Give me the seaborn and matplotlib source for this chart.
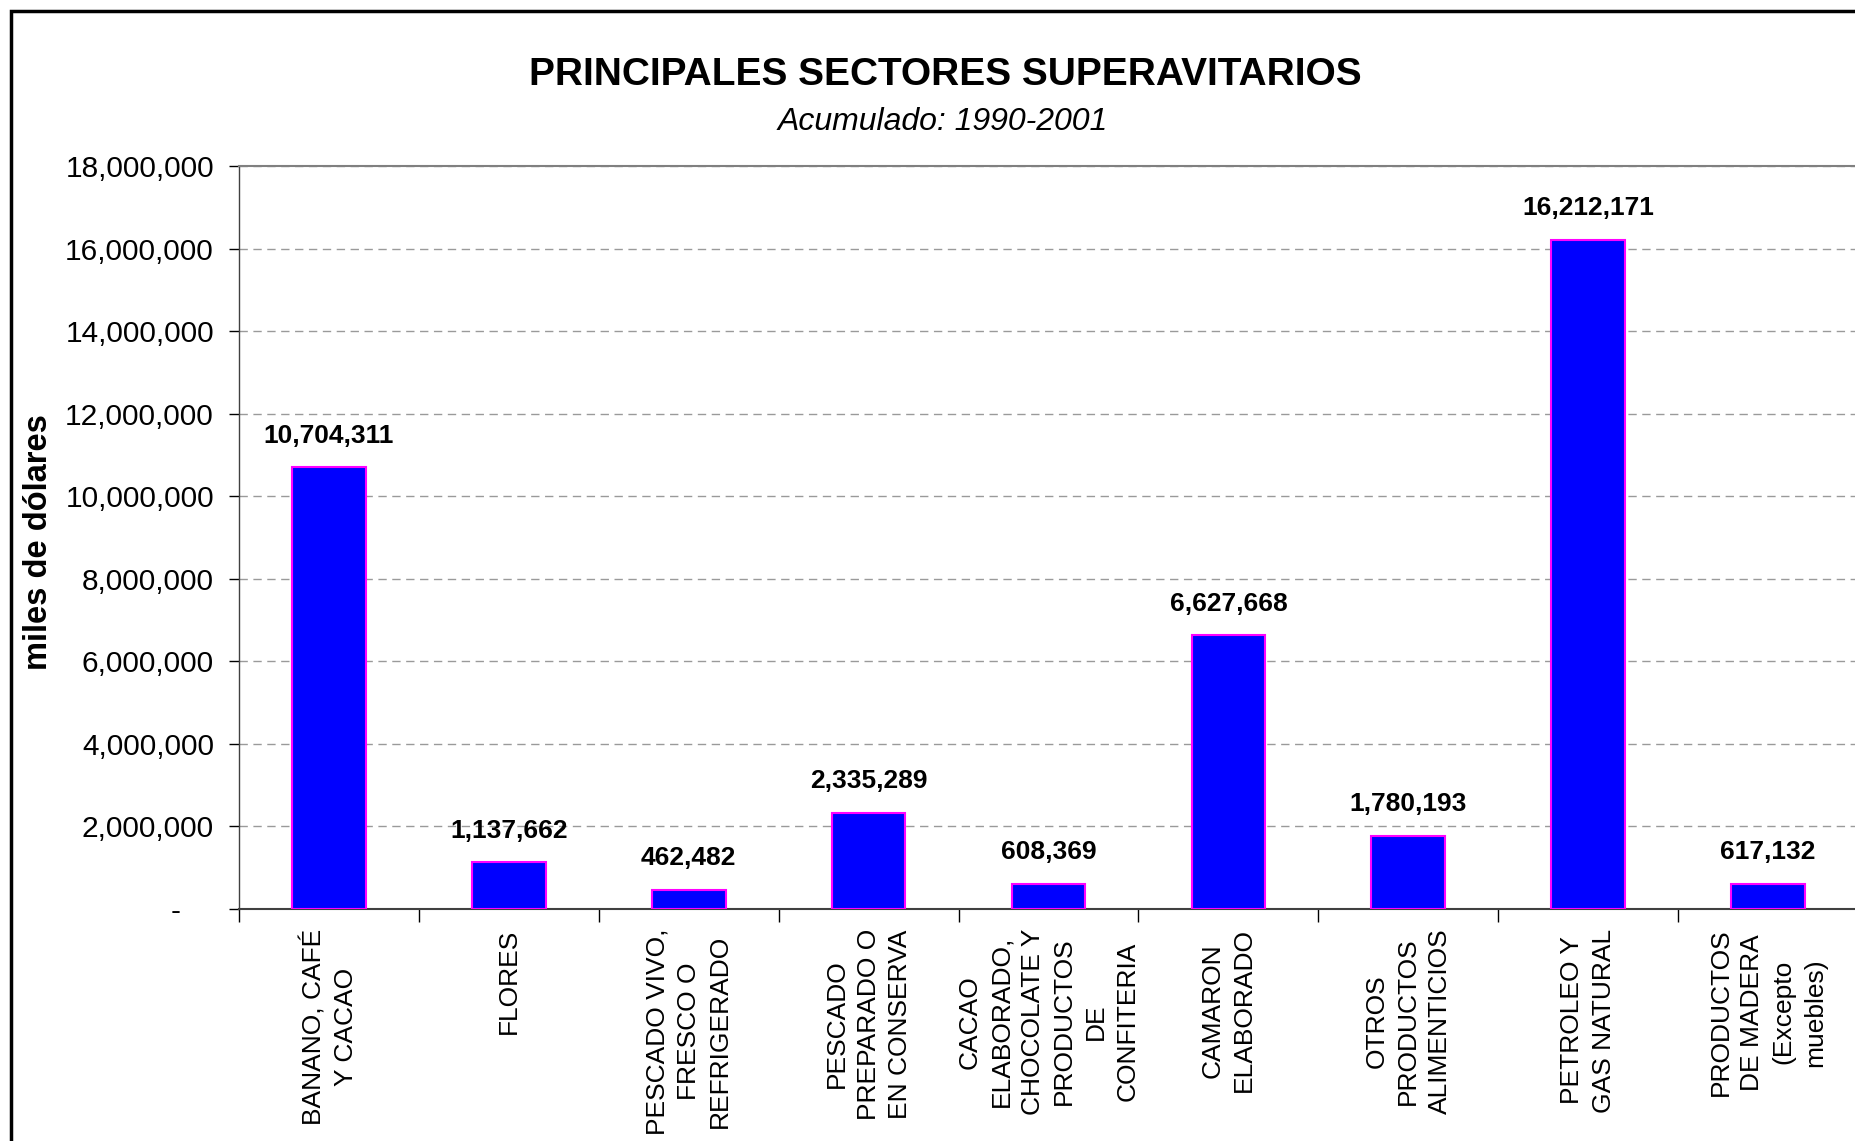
import matplotlib
matplotlib.use("Agg")
import matplotlib.pyplot as plt
import matplotlib.patches as patches
from matplotlib.ticker import FuncFormatter, FixedLocator
import seaborn as sns

# data
categories = [
    "BANANO, CAFÉ\nY CACAO",
    "FLORES",
    "PESCADO VIVO,\nFRESCO O\nREFRIGERADO",
    "PESCADO\nPREPARADO O\nEN CONSERVA",
    "CACAO\nELABORADO,\nCHOCOLATE Y\nPRODUCTOS\nDE\nCONFITERIA",
    "CAMARON\nELABORADO",
    "OTROS\nPRODUCTOS\nALIMENTICIOS",
    "PETROLEO Y\nGAS NATURAL",
    "PRODUCTOS\nDE MADERA\n(Excepto\nmuebles)",
]
values = [10704311, 1137662, 462482, 2335289, 608369, 6627668, 1780193, 16212171, 617132]
y_ticks = list(range(0, 18000001, 2000000))

TITLE = "PRINCIPALES SECTORES SUPERAVITARIOS"
SUBTITLE = "Acumulado: 1990-2001"
Y_LABEL = "miles de dólares"

sns.set_theme(style="white")
plt.rcParams["font.family"] = ["Liberation Sans", "DejaVu Sans"]
plt.rcParams["text.color"] = "black"
plt.rcParams["xtick.color"] = "black"
plt.rcParams["ytick.color"] = "black"

W, H = 1856, 1141
fig = plt.figure(figsize=(W / 100, H / 100), dpi=100)
fig.patch.set_facecolor("white")

# plot area placed like the original (right edge runs to the image border)
left, right, top, bottom = 239, 1858, 166, 909
ax = fig.add_axes([left / W, 1 - bottom / H, (right - left) / W, (bottom - top) / H])

sns.barplot(x=categories, y=values, color="#0000FF", saturation=1,
            edgecolor="#FF00FF", linewidth=1.5, width=0.41, ax=ax, zorder=3)

ax.set_xlim(-0.5, len(categories) - 0.5)
ax.set_ylim(0, 18000000)
ax.set_yticks(y_ticks)
ax.yaxis.set_major_formatter(FuncFormatter(lambda v, p: "-    " if v == 0 else f"{v:,.0f}"))
ax.tick_params(axis="y", which="major", direction="out", length=7, width=1,
               color="#000000", left=True, pad=11, labelcolor="black", labelsize=21.5)

# category labels between tick marks at category boundaries
ax.tick_params(axis="x", which="major", length=0, pad=14, labelcolor="black")
ax.set_xticks(range(len(categories)))
ax.set_xticklabels(categories, rotation=90, ha="center", va="top",
                   multialignment="center", fontsize=19, linespacing=1.4)
ax.xaxis.set_minor_locator(FixedLocator([i + 0.5 for i in range(-1, len(categories))]))
ax.tick_params(axis="x", which="minor", direction="out", length=9, width=1,
               color="#000000", bottom=True)

ax.yaxis.grid(True, linestyle=(0, (6, 4)), color="#9a9a9a", linewidth=1, zorder=0)
ax.set_axisbelow(True)
ax.spines["top"].set_color("#808080")
ax.spines["top"].set_linewidth(1.5)
ax.spines["right"].set_color("#808080")
ax.spines["left"].set_color("#404040")
ax.spines["left"].set_linewidth(1)
ax.spines["bottom"].set_color("#404040")
ax.spines["bottom"].set_linewidth(1.5)

ax.set_xlabel("")
ax.set_ylabel("")

# value labels on top of bars
for cont in ax.containers:
    ax.bar_label(cont, labels=[f"{v:,.0f}" for v in values], padding=14,
                 fontsize=19, fontweight="bold", color="black")

fig.text(945 / W, 1 - 75 / H, TITLE, ha="center", va="center",
         fontsize=28, fontweight="bold", color="black")
fig.text(943 / W, 1 - 122 / H, SUBTITLE, ha="center", va="center",
         fontsize=23, style="italic", color="black")
fig.text(39 / W, 1 - 542 / H, Y_LABEL, ha="center", va="center", rotation=90,
         fontsize=23.5, fontweight="bold", color="black")

# outer chart border, cropped on the right and bottom like the original
fig.add_artist(patches.Rectangle((11 / W, -0.2), 1.2, 1.2 - 11 / H,
                                 transform=fig.transFigure, fill=False,
                                 edgecolor="black", linewidth=2.5))

fig.savefig("out.png", dpi=100, facecolor="white")
